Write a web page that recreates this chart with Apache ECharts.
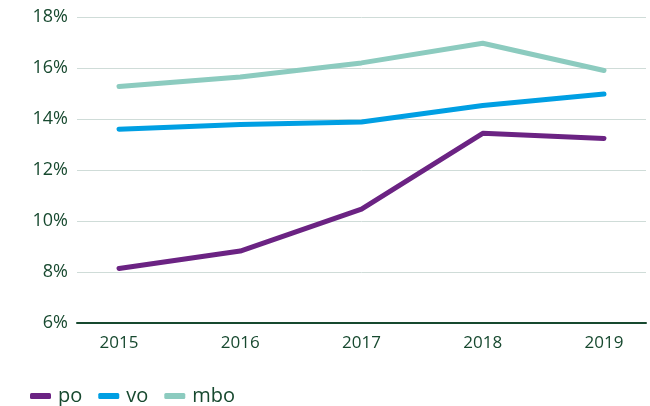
<!DOCTYPE html>
<html>
<head>
<meta charset="utf-8">
<script src="https://cdn.jsdelivr.net/npm/echarts@6/dist/echarts.min.js"></script>
<style>
  html, body { margin: 0; padding: 0; background: #fff; }
  #main { width: 650px; height: 406px; }
</style>
</head>
<body>
<div id="main"></div>
<script>
// data
var years = ['2015', '2016', '2017', '2018', '2019'];
var po = [8.14, 8.82, 10.47, 13.44, 13.24];
var vo = [13.6, 13.78, 13.88, 14.53, 14.98];
var mbo = [15.27, 15.65, 16.2, 16.97, 15.9];
var yTicks = [6, 8, 10, 12, 14, 16, 18];

document.addEventListener('DOMContentLoaded', function() {
    var myChart = echarts.init(document.getElementById('main'));
    var textColor = '#17492f';
    var font = '"Open Sans", sans-serif';

    var lineSeries = function(name, data, color) {
        return {
            name: name,
            type: 'line',
            xAxisIndex: 1,
            yAxisIndex: 1,
            data: data,
            symbol: 'none',
            lineStyle: { color: color, width: 5, cap: 'round', join: 'round' },
            itemStyle: { color: color }
        };
    };

    var option = {
        animation: false,
        textStyle: { fontFamily: font },
        legend: {
            left: 30,
            top: 386,
            padding: 0,
            icon: 'roundRect',
            itemWidth: 21,
            itemHeight: 6,
            itemGap: 16,
            textStyle: { color: textColor, fontSize: 20, fontFamily: font, padding: [0, 0, 0, 2] },
            data: ['po', 'vo', 'mbo']
        },
        grid: [
            { left: 77, right: 4, top: 17, bottom: 83 },
            { left: 119, right: 46, top: 17, bottom: 83 }
        ],
        xAxis: [
            {
                type: 'category',
                gridIndex: 0,
                data: years,
                axisLine: { lineStyle: { color: textColor, width: 2 } },
                axisTick: { show: false },
                axisLabel: { show: false }
            },
            {
                type: 'category',
                gridIndex: 1,
                data: years,
                boundaryGap: false,
                axisLine: { show: false },
                axisTick: { show: false },
                axisLabel: { color: textColor, fontSize: 17, fontFamily: font, margin: 12 }
            }
        ],
        yAxis: [
            {
                type: 'value',
                gridIndex: 0,
                min: yTicks[0],
                max: yTicks[yTicks.length - 1],
                interval: 2,
                axisLine: { show: false },
                axisTick: { show: false },
                splitLine: { lineStyle: { color: '#cfdcd8', width: 1 } },
                axisLabel: { color: textColor, fontSize: 18, fontFamily: font, margin: 9, formatter: '{value}%' }
            },
            {
                type: 'value',
                gridIndex: 1,
                min: yTicks[0],
                max: yTicks[yTicks.length - 1],
                interval: 2,
                show: false
            }
        ],
        series: [
            lineSeries('po', po, '#6b2383'),
            lineSeries('vo', vo, '#009fe3'),
            lineSeries('mbo', mbo, '#8ccbbf')
        ]
    };

    option && myChart.setOption(option);
});
</script>
</body>
</html>
